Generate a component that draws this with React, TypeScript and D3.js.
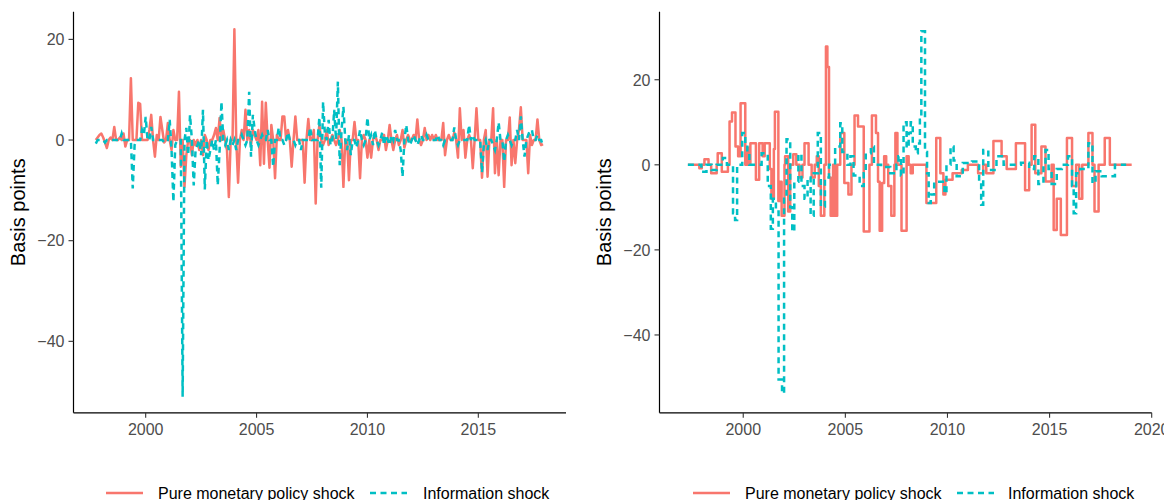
import React from "react";
import * as d3 from "d3";

// ---------- DATA ----------
// Left panel: monthly series starting Oct 1997 (1997.75), step 1/12 year
const leftStart = 1997.75;
const leftPure: number[] = [
  0, 0.5, 1.0,
  1.3, 0.5, -0.5, -1.6, 0, 0.5, 0, 2.6, 0, 0, 0.5, 0,
  1.3, -1.3, 0, 0, 12.3, 0, 0, 0, 7.4, 7.2, 0, 0,
  0, 0, 2, 5, 0, -3.3, 1, 0, 4.6, 2, -0.5, 0,
  3.4, 0, -2, 2, 0, 0, 9.6, -5.3, 0, -9.3, -3, 0,
  0, -3, 0, -1, 0, -2, 0, -3, 1, 0, -2, 0,
  0, 1, 2.4, 0, 4.4, 0, 2, 0, -2, -11.3, 0, 0,
  22, 0, -8.5, 0, 2, 0, 6, 0, 2, -1, 2, 1,
  0, 2, -5, 7.6, -4.7, 7.4, 0, -5.5, 3, 0, -7.6, 1,
  0, 0, 4.7, 4.7, 0, 2, 0, -5.3, 0, 4.7, 0, 0,
  0, 0, -8.5, 0, 4.2, 0, 0, 2, -12.6, 0, 3, 0,
  -1, 0, 2, -1, 0, 1, 0, -1, 0, 2, 0, -9.3,
  0, 0, -8, 0, 0, 3.6, 0, 0, -7.6, 0, 1, 0,
  -3.5, 0, -3.5, 0, 1, 0, -2, 0, 0, 1, -2, 0,
  3, 0, -2, 0, 1, -1, 0, 2, -1.5, 0, 1, 0,
  0, 1, 0, 4.1, 0, -1, 0, 2.4, 0, 1, 0, 1,
  0, 1, 0, 0, 0, 3.4, -3, 0, 1, 0, 0, 1.5,
  0, -3.5, 6.3, 0, 2, -3.5, 0, 1, 0, -5.6, 0, 6.3,
  0, 0, -7.5, 0, 2, -7.3, 0, 0, 6.3, -6.6, 0, -7,
  0, 0, -9.3, 0, 0, 4.5, -5, 0, -4.6, 0, 2, 6.5,
  0, 0, 0, -6.6, 1, -1, 0, 0, 4.1, 0, -1, -0.8,
];
const leftInfo: number[] = [
  -0.7, 0, 0,
  0, 0, -0.5, 0, 0, 0, 0, 0, 0, 0, 0, 1.3,
  0, 0, 0, 0, 0, -9.6, -1, 0, 0, 0, 2, 1,
  4.6, 0, 0, 2.6, 0, 0, 0, 0, 0, 0, -0.5, 0,
  0, 4, -2, -12.3, -1, 0, 0, 0, -51, 0, 2.4, -3,
  5, 0, -9, -2, -1, 0, -3, 6, -9.8, 0, -4, -2,
  0, -2, 0, -9, -2, 7.6, 0, -1, 0, -2, 0, -1,
  0, -2, 0, 0, 1, 0, -1, 0, 9.6, -3.3, 5, 2,
  0, -1, 0, 1, 0, 0, 2, 0, 0, -5.3, 0, 0,
  2.5, 0, 0, -1, 0, 1.5, 0, 0, 0, -1, 0, 0,
  -2, 0, 0, 0, 0, 2.5, 0, 0, 0, 0, 4.5, -9.5,
  7.6, 1, 0, 4, -1, 0, 6, 0, 11.6, -5, 2, 6.6,
  0, -2, 1, -3, 0, 0, -1.5, 0, 2, 0, -1, 0,
  4.5, 0, 1, -1, 2, 0, -1, 0, 1.5, -1, 1, 0,
  -1, 1, 0, 2, 0, 0, -2, -7.3, 0, 3, 0, -1,
  0, 1, 0, -1, 0, 1, 0, 0, 1, 0, 0, 0,
  0, 0, 1, 0, 0, -1, 0, 0, 0, 0, 0, 2.5,
  0, -1, 0, 0, 0, 0, 0, 3, 0, 1, 0, 0,
  0, 0, -6.5, -1, 0, -2, 0, 0, -1, -2, 0, 3.5,
  0, 0, -4.3, 0, 1, 0, -1, 0, 0, 2, 0, 4.7,
  0, -3.3, 0, 1, 2, 2, 0, 0, 1, 0, 0, -1.2,
];

// Right panel: step series, [year, value] change points
const rightPure: [number, number][] = [
  [1997.29, 0], [1997.85, -0.8], [1997.97, 0], [1998.1, 1.3], [1998.3, 0], [1998.43, -2],
  [1998.7, 0], [1998.75, 2.7], [1998.95, -1.6], [1999.25, 0], [1999.33, 10.2], [1999.45, 12.3],
  [1999.62, 4.3], [1999.75, 2], [1999.87, 14.5], [2000.1, 0], [2000.2, 4], [2000.28, 0],
  [2000.35, 5.1], [2000.62, -3.5], [2000.78, 5.1], [2000.95, 2], [2001.05, 5.1], [2001.3, -1],
  [2001.38, -8], [2001.5, 3.7], [2001.55, 12.5], [2001.72, -8.5], [2001.8, -4], [2001.88, -12],
  [2002.02, 0], [2002.05, 2], [2002.2, -11], [2002.3, 0], [2002.45, 2.5], [2002.6, 0],
  [2002.75, -3], [2002.9, 0], [2003.0, 5.1], [2003.2, 0], [2003.35, -3], [2003.5, 0],
  [2003.6, 2], [2003.7, -5], [2003.8, -12], [2003.97, 0], [2004.05, 27.8], [2004.12, 23],
  [2004.2, -3], [2004.28, -12], [2004.4, 0], [2004.48, -12], [2004.6, 0], [2004.75, 7.5],
  [2004.95, -4.3], [2005.15, -7], [2005.3, 0], [2005.45, 11.6], [2005.62, 9], [2005.9, -15.7],
  [2006.18, 0], [2006.3, 11.6], [2006.5, 7.5], [2006.6, -4], [2006.68, -15.5], [2006.8, -4.3],
  [2006.9, 2], [2007.0, 0], [2007.1, -5], [2007.25, -12], [2007.4, 0], [2007.45, 7.5],
  [2007.55, 0], [2007.75, -15.5], [2008.0, 2], [2008.1, 0], [2008.2, -2], [2008.3, 0],
  [2008.97, -9], [2009.45, 6.3], [2009.65, -2], [2009.8, -7], [2009.9, -3.5], [2010.25, -2],
  [2010.7, -1.2], [2011.0, 0], [2011.5, -2], [2011.75, 0], [2011.9, -2], [2012.25, 5.6],
  [2012.65, 2], [2012.9, -1], [2013.35, 5.1], [2013.8, -6], [2014.0, 0], [2014.12, 9.4],
  [2014.3, -2], [2014.6, 4.3], [2014.8, -3.9], [2015.1, 0], [2015.2, -15.3], [2015.35, -8],
  [2015.55, -16.5], [2015.85, 6.3], [2016.1, -5], [2016.3, 0], [2016.45, -8], [2016.6, 0],
  [2016.9, 7.5], [2017.1, 0], [2017.2, -11], [2017.4, 0], [2017.7, 6.3], [2017.95, 0],
  [2019.02, 0],
];
const rightInfo: [number, number][] = [
  [1997.29, 0], [1997.95, -1.6], [1998.2, 0], [1998.45, -1.2], [1998.7, 0], [1999.0, 1.6],
  [1999.2, 0], [1999.5, -11.4], [1999.6, -13], [1999.7, 0], [1999.95, 7.5], [2000.1, 5.1],
  [2000.2, 2.7], [2000.3, 0], [2000.9, 2.7], [2001.2, -5], [2001.35, -15], [2001.45, -8],
  [2001.6, -11], [2001.73, -50.5], [2001.9, -53.7], [2002.0, -8], [2002.12, 6], [2002.3, -10],
  [2002.4, -15.7], [2002.5, -4], [2002.7, 2.5], [2002.85, -5], [2003.0, -8], [2003.15, -3],
  [2003.3, -12], [2003.45, -2], [2003.65, 7.5], [2003.8, -9.8], [2004.0, -3], [2004.2, 0],
  [2004.5, 4.3], [2004.75, 9.8], [2004.85, 3], [2005.1, 0], [2005.25, 2], [2005.4, -2.5],
  [2005.7, -5], [2005.9, -2], [2006.0, 2.7], [2006.25, 4.3], [2006.4, 0], [2006.75, -0.5],
  [2007.2, -2], [2007.5, 0], [2007.6, 2], [2007.72, -2.5], [2007.85, 10], [2008.0, 4],
  [2008.1, 7.5], [2008.2, 10], [2008.3, 4.3], [2008.45, 2.7], [2008.55, 5], [2008.65, 10.6],
  [2008.72, 31.4], [2008.9, 3], [2009.0, -2], [2009.08, -9], [2009.18, -7], [2009.35, -4],
  [2009.85, -6.7], [2009.95, 0], [2010.15, 4.3], [2010.3, 1], [2010.45, -2.7], [2010.75, 0.4],
  [2011.2, 0.8], [2011.55, -4], [2011.65, -9.4], [2011.75, 3.5], [2012.0, -1.2], [2012.4, 2],
  [2012.75, 0], [2013.6, 0.5], [2014.0, -1], [2014.25, 2], [2014.45, -4.5], [2014.7, 0],
  [2014.8, 3.5], [2014.95, -1], [2015.1, -4.5], [2015.35, -1], [2015.6, 0], [2015.9, 2],
  [2016.1, -5], [2016.18, -11.4], [2016.3, -2], [2016.5, -1], [2016.9, 5.1], [2017.1, -4.3],
  [2017.25, -1.5], [2017.55, -2.7], [2018.2, 0], [2018.75, 0],
];

const leftYTicks = [-40, -20, 0, 20];
const rightYTicks = [-40, -20, 0, 20];
const leftXTicks = [2000, 2005, 2010, 2015];
const rightXTicks = [2000, 2005, 2010, 2015, 2020];
const seriesNames = ["Pure monetary policy shock", "Information shock"];
const yTitle = "Basis points";

// ---------- STYLE ----------
const RED = "#F8766D";
const TEAL = "#00BFC4";
const FONT = "'Liberation Sans', Arial, Helvetica, sans-serif";
const LW = 2.5;
const DASH = "6,4.5";

type Panel = {
  x0: number; x1: number; y0: number; y1: number;
  xDom: [number, number]; yDom: [number, number];
  xTicks: number[]; yTicks: number[];
  pure: [number, number][]; info: [number, number][];
  step: boolean; titleX: number;
  legend: { redX: number; redText: number; tealX: number; tealText: number };
};

const toPairs = (vals: number[]): [number, number][] =>
  vals.map((v, i) => [leftStart + i / 12, v]);

const panels: Panel[] = [
  {
    x0: 73.5, x1: 566, y0: 11.7, y1: 412.8,
    xDom: [1996.745, 2018.954], yDom: [-54.2, 25.5],
    xTicks: leftXTicks, yTicks: leftYTicks,
    pure: toPairs(leftPure), info: toPairs(leftInfo),
    step: false, titleX: 25,
    legend: { redX: 106, redText: 158, tealX: 370, tealText: 423 },
  },
  {
    x0: 659.5, x1: 1151.7, y0: 11.7, y1: 412.8,
    xDom: [1995.9, 2020.0], yDom: [-58.3, 36.0],
    xTicks: rightXTicks, yTicks: rightYTicks,
    pure: rightPure, info: rightInfo,
    step: true, titleX: 611,
    legend: { redX: 693, redText: 745, tealX: 957, tealText: 1008 },
  },
];

function PanelView({ p }: { p: Panel }) {
  const x = d3.scaleLinear().domain(p.xDom).range([p.x0, p.x1]);
  const y = d3.scaleLinear().domain(p.yDom).range([p.y1, p.y0]);
  const line = d3
    .line<[number, number]>()
    .x((d) => x(d[0]))
    .y((d) => y(d[1]))
    .curve(p.step ? d3.curveStepAfter : d3.curveLinear);
  const yMid = (p.y0 + p.y1) / 2;
  const fmt = (v: number) => (v < 0 ? "\u2212" + Math.abs(v) : String(v));
  return (
    <g>
      <path d={line(p.pure) || ""} fill="none" stroke={RED} strokeWidth={LW} strokeLinejoin="round" />
      <path d={line(p.info) || ""} fill="none" stroke={TEAL} strokeWidth={LW} strokeDasharray={DASH} />
      {/* axes */}
      <line x1={p.x0} x2={p.x0} y1={p.y0} y2={p.y1} stroke="#000" strokeWidth={1.2} />
      <line x1={p.x0} x2={p.x1} y1={p.y1} y2={p.y1} stroke="#000" strokeWidth={1.2} />
      {p.yTicks.map((t) => (
        <g key={"y" + t}>
          <line x1={p.x0 - 5} x2={p.x0} y1={y(t)} y2={y(t)} stroke="#333" strokeWidth={1.1} />
          <text x={p.x0 - 9} y={y(t)} dy="0.36em" textAnchor="end" fontSize={16} fill="#4D4D4D" fontFamily={FONT}>
            {fmt(t)}
          </text>
        </g>
      ))}
      {p.xTicks.map((t) => (
        <g key={"x" + t}>
          <line x1={x(t)} x2={x(t)} y1={p.y1} y2={p.y1 + 5} stroke="#333" strokeWidth={1.1} />
          <text x={x(t)} y={p.y1 + 22} textAnchor="middle" fontSize={16} fill="#4D4D4D" fontFamily={FONT}>
            {t}
          </text>
        </g>
      ))}
      <text
        transform={`translate(${p.titleX},${yMid}) rotate(-90)`}
        textAnchor="middle"
        fontSize={20}
        fill="#000"
        fontFamily={FONT}
      >
        {yTitle}
      </text>
      {/* legend */}
      <line x1={p.legend.redX} x2={p.legend.redX + 37} y1={493} y2={493} stroke={RED} strokeWidth={LW} />
      <text x={p.legend.redText} y={498.5} fontSize={16} fill="#000" fontFamily={FONT}>
        {seriesNames[0]}
      </text>
      <line x1={p.legend.tealX} x2={p.legend.tealX + 37} y1={493} y2={493} stroke={TEAL} strokeWidth={LW} strokeDasharray={DASH} />
      <text x={p.legend.tealText} y={498.5} fontSize={16} fill="#000" fontFamily={FONT}>
        {seriesNames[1]}
      </text>
    </g>
  );
}

export default function App() {
  return (
    <svg
      width={1164}
      height={500}
      viewBox="0 0 1164 500"
      style={{ position: "absolute", left: 0, top: 0, background: "#fff" }}
    >
      <rect x={0} y={0} width={1164} height={500} fill="#fff" />
      {panels.map((p, i) => (
        <PanelView key={i} p={p} />
      ))}
    </svg>
  );
}
